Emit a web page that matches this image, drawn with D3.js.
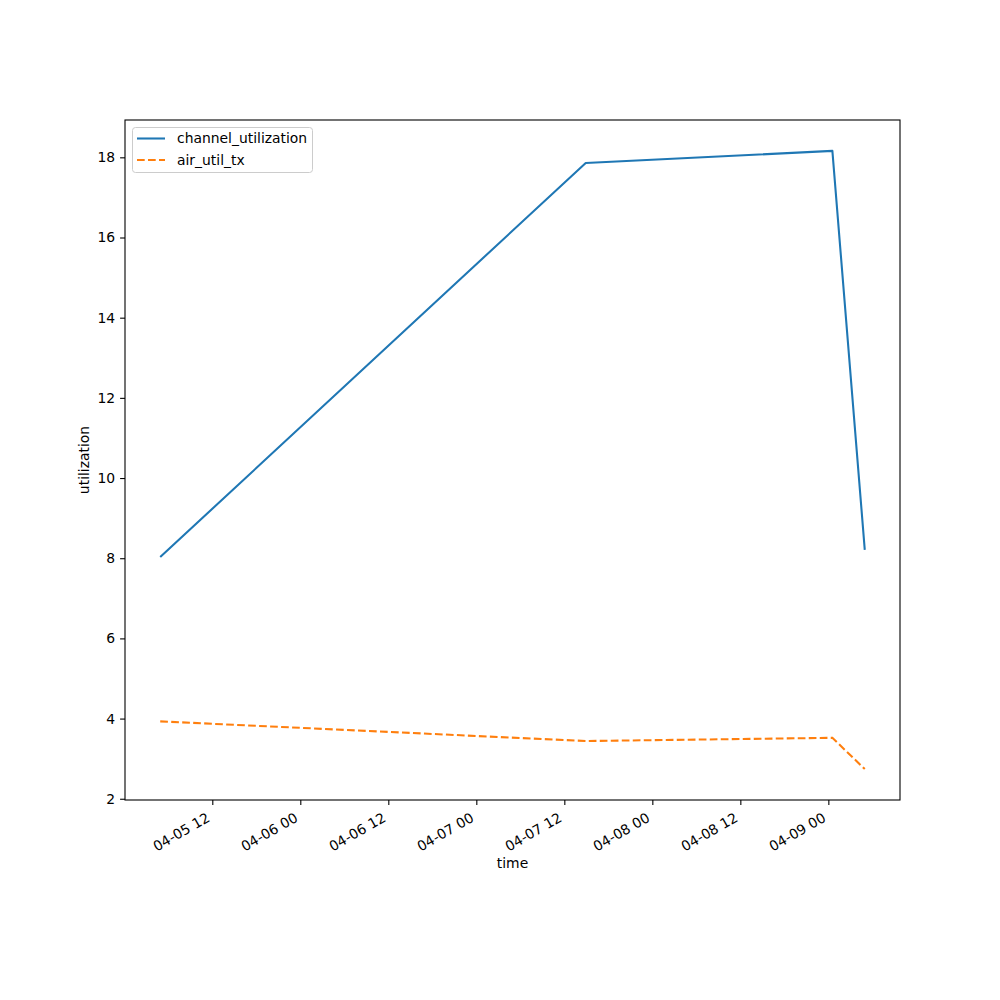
<!DOCTYPE html>
<html><head><meta charset="utf-8">
<script src="https://cdn.jsdelivr.net/npm/d3@7"></script>
<style>body{margin:0;background:#fff}svg{display:block}text{font-family:"DejaVu Sans",sans-serif}</style>
</head><body><svg id="c" width="1000" height="1000"></svg>
<script>
const times = ["2024-04-05T04:54:00Z","2024-04-07T14:55:00Z","2024-04-09T00:33:00Z","2024-04-09T04:58:00Z"];
const channelUtil = [8.03, 17.86, 18.16, 8.21];
const airUtilTx = [3.93, 3.44, 3.52, 2.74];
const seriesNames = ["channel_utilization","air_util_tx"];
const yTicks = [2,4,6,8,10,12,14,16,18];

const svg = d3.select("#c");
const L=125,R=900,T=120,B=800;
const dates = times.map(t=>new Date(t));
const xe = d3.extent(dates);
const xr = xe[1]-xe[0];
const x = d3.scaleUtc().domain([new Date(+xe[0]-0.05*xr), new Date(+xe[1]+0.05*xr)]).range([L,R]);
const allY = channelUtil.concat(airUtilTx);
const ye = d3.extent(allY), yr = ye[1]-ye[0];
const y = d3.scaleLinear().domain([ye[0]-0.05*yr, ye[1]+0.05*yr]).range([B,T]);

const fs = 13.9;
// lines
const line = d3.line().x((d,i)=>x(dates[i])).y(d=>y(d));
svg.append("path").attr("d",line(channelUtil)).attr("fill","none").attr("stroke","#1f77b4").attr("stroke-width",2.08).attr("stroke-linejoin","round");
svg.append("path").attr("d",line(airUtilTx)).attr("fill","none").attr("stroke","#ff7f0e").attr("stroke-width",2.08).attr("stroke-dasharray","7.7,3.3");

// frame
svg.append("rect").attr("x",L).attr("y",T).attr("width",R-L).attr("height",B-T).attr("fill","none").attr("stroke","#000").attr("stroke-width",1.1);

// x axis
const xAxis = d3.axisBottom(x).ticks(d3.utcHour.every(12)).tickFormat(d3.utcFormat("%m-%d %H")).tickSizeOuter(0).tickSize(4.9).tickPadding(4.9);
const gx = svg.append("g").attr("transform",`translate(0,${B})`).call(xAxis);
gx.select(".domain").remove();
gx.selectAll(".tick line").attr("stroke","#000").attr("stroke-width",1.1);
gx.selectAll(".tick text").attr("font-size",fs).attr("fill","#000")
  .attr("text-anchor","end").attr("dy",null).attr("y",null)
  .attr("transform","translate(-4,17) rotate(-30)").attr("dominant-baseline","middle");

// y axis
const yAxis = d3.axisLeft(y).tickValues(yTicks).tickSizeOuter(0).tickSize(4.9).tickPadding(4.9);
const gy = svg.append("g").attr("transform",`translate(${L},0)`).call(yAxis);
gy.select(".domain").remove();
gy.selectAll(".tick line").attr("stroke","#000").attr("stroke-width",1.1);
gy.selectAll(".tick text").attr("font-size",fs).attr("fill","#000");

svg.append("text").attr("x",(L+R)/2).attr("y",868).attr("text-anchor","middle").attr("font-size",fs).text("time");
svg.append("text").attr("transform",`translate(89,${(T+B)/2}) rotate(-90)`).attr("text-anchor","middle").attr("font-size",fs).text("utilization");

// legend
const lg = svg.append("g");
lg.append("rect").attr("x",132.5).attr("y",127.5).attr("width",180).attr("height",45).attr("rx",3).attr("fill","#fff").attr("fill-opacity",0.8).attr("stroke","#ccc");
const colors=["#1f77b4","#ff7f0e"], dash=[null,"7.7,3.3"];
seriesNames.forEach((n,i)=>{
  const yy = 138.5 + i*21.5;
  lg.append("line").attr("x1",137).attr("x2",165).attr("y1",yy).attr("y2",yy).attr("stroke",colors[i]).attr("stroke-width",2.08).attr("stroke-dasharray",dash[i]);
  lg.append("text").attr("x",177).attr("y",yy).attr("dy","0.35em").attr("font-size",fs).text(n);
});
</script></body></html>
